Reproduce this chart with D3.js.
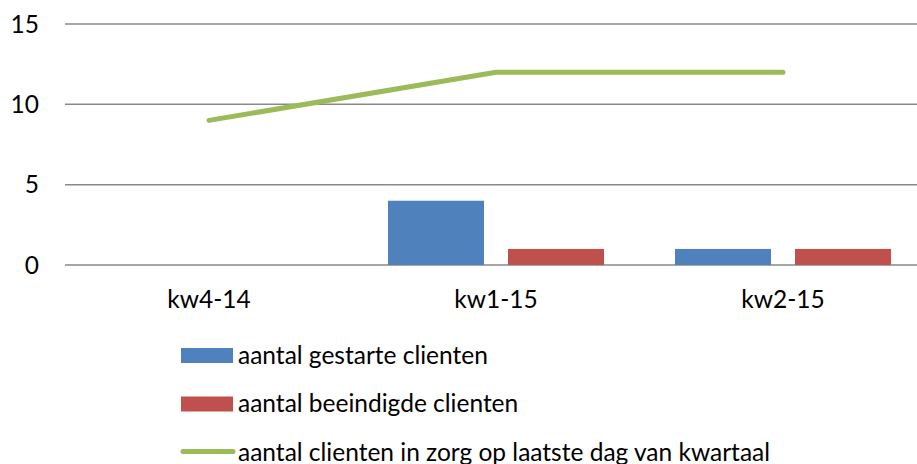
<!DOCTYPE html>
<html>
<head>
<meta charset="utf-8">
<script src="https://cdn.jsdelivr.net/npm/d3@7"></script>
<style>
  body { margin:0; background:#fff; }
  text { font-family: Lato, "Open Sans", sans-serif; fill:#000; }
</style>
</head>
<body>
<svg id="svg" width="917" height="464"></svg>
<script>
var categories = ["kw4-14", "kw1-15", "kw2-15"];
var gestart    = [0, 4, 1];
var beeindigd  = [0, 1, 1];
var inZorg     = [9, 12, 12];
var yTicks     = [0, 5, 10, 15];
var seriesNames = ["aantal gestarte clienten", "aantal beeindigde clienten",
                   "aantal clienten in zorg op laatste dag van kwartaal"];

var svg = d3.select("#svg");

var blue = "#4f81bd", red = "#c0504d", green = "#9bbb59", grid = "#898989";
var fs = 24.5;

var x = d3.scaleBand().domain(categories).range([65.5, 926.5]);
var xs = d3.scaleBand().domain([0, 1]).range([35.5, 287 - 35.5]).paddingInner(0.2);
var y = d3.scaleLinear().domain([0, 15]).range([265, 24]);

// gridlines
svg.append("g").selectAll("line").data(yTicks).enter().append("line")
    .attr("x1", 65).attr("x2", 917)
    .attr("y1", d => y(d)).attr("y2", d => y(d))
    .attr("stroke", grid).attr("stroke-width", 1.5);

// y labels
svg.append("g").selectAll("text").data(yTicks).enter().append("text")
    .attr("x", 39).attr("y", d => y(d)).attr("dy", "0.35em")
    .attr("text-anchor", "end").attr("font-size", fs).text(d => d);

// x labels
svg.append("g").selectAll("text").data(categories).enter().append("text")
    .attr("x", d => x(d) + x.bandwidth() / 2).attr("y", 299).attr("dy", "0.35em")
    .attr("text-anchor", "middle").attr("font-size", fs).text(d => d);

// bars
[[gestart, blue], [beeindigd, red]].forEach(function (s, i) {
  svg.append("g").selectAll("rect").data(s[0]).enter().append("rect")
      .attr("x", (d, j) => x(categories[j]) + xs(i))
      .attr("width", xs.bandwidth())
      .attr("y", d => y(d)).attr("height", d => y(0) - y(d))
      .attr("fill", s[1]);
});

// line
var line = d3.line().x((d, i) => x(categories[i]) + x.bandwidth() / 2).y(d => y(d));
svg.append("path").datum(inZorg).attr("d", line)
    .attr("fill", "none").attr("stroke", green).attr("stroke-width", 5)
    .attr("stroke-linecap", "round").attr("stroke-linejoin", "round");

// legend
var leg = svg.append("g").selectAll("g").data(seriesNames).enter().append("g")
    .attr("transform", (d, i) => "translate(181," + (355.5 + 48.5 * i) + ")");
leg.each(function (d, i) {
  var g = d3.select(this);
  if (i < 2) {
    g.append("rect").attr("x", 0).attr("y", -7.5).attr("width", 52).attr("height", 15)
        .attr("fill", i ? red : blue);
  } else {
    g.append("line").attr("x1", 2).attr("x2", 52).attr("y1", -1).attr("y2", -1)
        .attr("stroke", green).attr("stroke-width", 5).attr("stroke-linecap", "round");
  }
  g.append("text").attr("x", 57).attr("y", 0).attr("dy", "0.33em")
      .attr("font-size", fs).text(d);
});
</script>
</body>
</html>
